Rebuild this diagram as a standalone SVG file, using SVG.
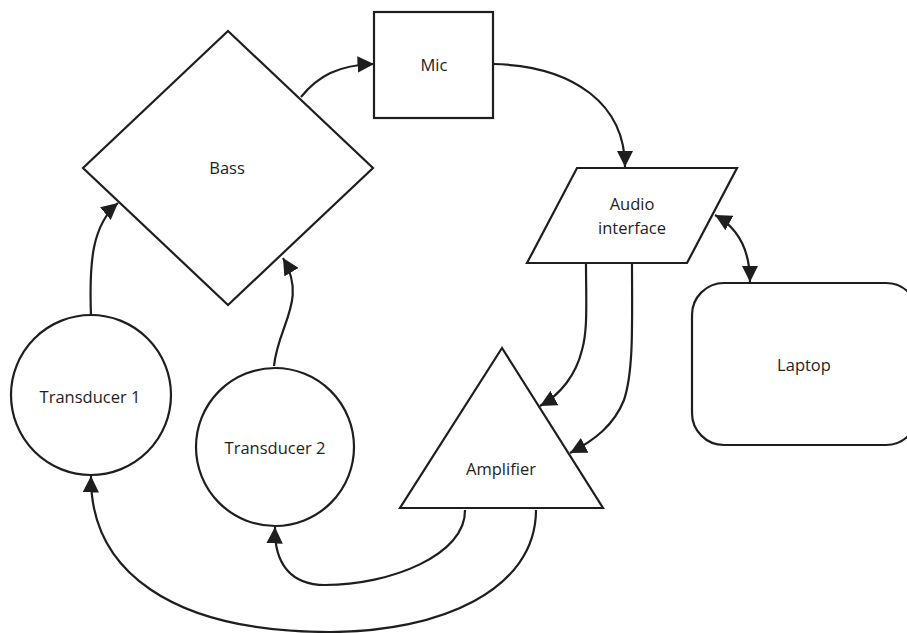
<svg xmlns="http://www.w3.org/2000/svg" width="907" height="633" viewBox="0 0 907 633">
<defs>
<style>
.s{fill:#ffffff;stroke:#1e1e1e;stroke-width:2.2}
.c{fill:none;stroke:#1e1e1e;stroke-width:2.2}
.t{font-family:"Open Sans","Noto Sans",sans-serif;font-size:16.5px;fill:#1e1e1e;text-anchor:middle;dominant-baseline:central}
</style>
<marker id="a" viewBox="0 0 10 10" refX="10" refY="5" markerWidth="7.5" markerHeight="7.5" orient="auto-start-reverse" markerUnits="strokeWidth">
<path d="M0,0 L10,5 L0,10 Z" fill="#1e1e1e"/>
</marker>
</defs>
<rect width="907" height="633" fill="#ffffff"/>
<g id="bass"><polygon class="s" points="228,31 373,168 228,305 83,168"/><text class="t" x="227" y="167">Bass</text></g>
<g id="mic"><rect class="s" x="374" y="12" width="119" height="106"/><text class="t" x="434" y="64">Mic</text></g>
<g id="audio"><polygon class="s" points="577,168 737,168 687,263 527,263"/><text class="t" x="632" y="203">Audio</text><text class="t" x="632" y="227">interface</text></g>
<g id="laptop"><rect class="s" x="692" y="283" width="226" height="162" rx="32"/><text class="t" x="804" y="364">Laptop</text></g>
<g id="t1"><circle class="s" cx="91" cy="395" r="80"/><text class="t" x="90" y="396">Transducer 1</text></g>
<g id="t2"><circle class="s" cx="275" cy="447" r="79"/><text class="t" x="275" y="447">Transducer 2</text></g>
<g id="amp"><polygon class="s" points="502,348 603,508 400,508"/><text class="t" x="501" y="468">Amplifier</text></g>
<g id="connectors">
<path class="c" marker-end="url(#a)" d="M301,97 C318,76 338,65 374,64"/>
<path class="c" marker-end="url(#a)" d="M493,64 C575,66 625,105 625,167"/>
<path class="c" marker-end="url(#a)" d="M586,263 C586,300 588,330 582,350 C576,375 560,395 540,406"/>
<path class="c" marker-end="url(#a)" d="M632,263 C632,320 634,370 624,400 C614,425 595,440 570,453"/>
<path class="c" marker-start="url(#a)" marker-end="url(#a)" d="M715,215 C742,230 750,255 750,282"/>
<path class="c" marker-end="url(#a)" d="M91,316 C89,262 92,225 118,203"/>
<path class="c" marker-end="url(#a)" d="M274,366 C278,325 308,300 283,258"/>
<path class="c" marker-end="url(#a)" d="M465,510 C466,555 390,585 325,585 C292,585 274,565 275,527"/>
<path class="c" marker-end="url(#a)" d="M536,510 C536,590 440,632 330,632 C170,632 90,570 91,476"/>
</g>
</svg>
